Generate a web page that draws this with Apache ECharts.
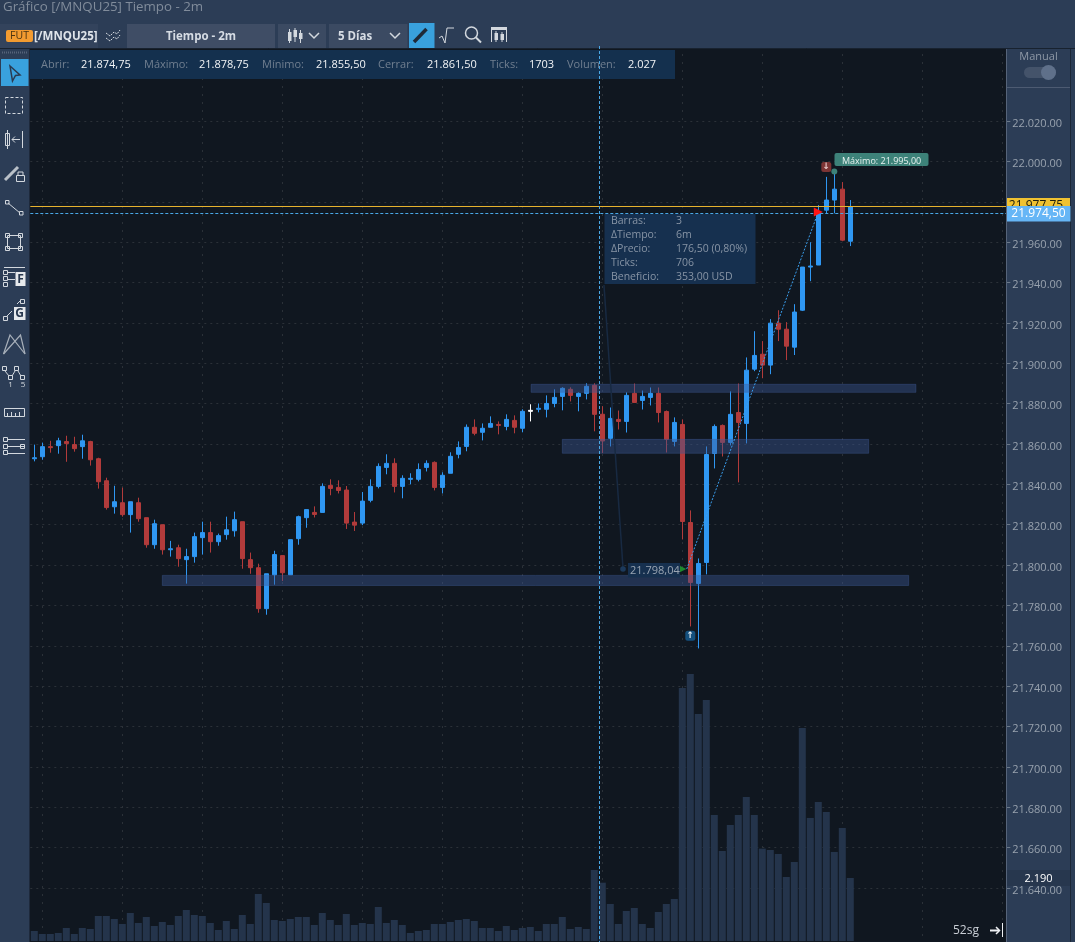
<!DOCTYPE html>
<html>
<head>
<meta charset="utf-8">
<title>Gráfico [/MNQU25] Tiempo - 2m</title>
<script src="https://cdn.jsdelivr.net/npm/echarts@6/dist/echarts.min.js"></script>
<style>
html, body { margin: 0; padding: 0; background: #101720; overflow: hidden; }
#chart { width: 1075px; height: 942px; }
</style>
</head>
<body>
<div id="chart"></div>
<script>
// candle values, oldest first
var opens = [
    21852.7, 21853.7, 21858.7, 21859.2, 21861.2, 21859.7, 21858.7, 21861.2, 21852.7, 21841.8,
    21828.9, 21830.9, 21825.0, 21830.9, 21823.5, 21810.1, 21820.0, 21807.6, 21808.6, 21802.7,
    21804.2, 21813.6, 21816.1, 21811.6, 21815.1, 21817.0, 21821.5, 21802.7, 21798.7, 21778.4,
    21795.2, 21804.7, 21795.2, 21813.1, 21823.5, 21826.1, 21826.1, 21839.5, 21838.5, 21837.2,
    21821.3, 21820.8, 21832.1, 21839.0, 21848.4, 21850.4, 21839.0, 21842.5, 21842.5, 21848.4,
    21850.9, 21838.5, 21845.5, 21854.9, 21858.8, 21868.3, 21865.8, 21868.3, 21869.7, 21868.7,
    21871.7, 21867.8, 21876.2, 21877.2, 21877.2, 21880.1, 21883.6, 21887.1, 21883.6, 21885.1,
    21889.1, 21874.75, 21862.8, 21872.2, 21871.2, 21885.1, 21881.6, 21883.1, 21885.1, 21876.1,
    21861.3, 21869.7, 21821.1, 21790.9, 21801.3, 21855.3, 21869.2, 21860.8, 21875.6, 21870.2,
    21897.1, 21904.5, 21899.1, 21919.9, 21916.9, 21908.0, 21926.3, 21947.7, 21948.7, 21975.9,
    21980.9, 21986.3, 21960.5
];
var closes = [
    21853.2, 21858.7, 21858.2, 21861.6, 21860.2, 21857.7, 21861.6, 21852.2, 21841.3, 21828.5,
    21831.4, 21825.0, 21831.4, 21823.0, 21810.1, 21820.5, 21807.6, 21808.1, 21803.2, 21804.2,
    21814.1, 21816.1, 21811.6, 21814.6, 21817.5, 21822.5, 21803.2, 21798.7, 21778.4, 21795.7,
    21805.2, 21796.2, 21812.6, 21824.0, 21827.5, 21825.1, 21839.0, 21838.0, 21837.0, 21820.8,
    21819.8, 21831.7, 21839.0, 21848.9, 21850.4, 21839.0, 21843.0, 21843.0, 21847.4, 21850.4,
    21838.5, 21844.5, 21853.9, 21858.3, 21868.3, 21865.3, 21867.8, 21870.2, 21869.2, 21872.2,
    21868.3, 21876.2, 21876.7, 21877.7, 21880.1, 21883.1, 21887.6, 21884.1, 21885.1, 21888.6,
    21874.7, 21861.5, 21872.7, 21871.2, 21884.1, 21880.6, 21883.6, 21885.1, 21875.6, 21862.3,
    21870.7, 21821.6, 21791.4, 21800.8, 21854.8, 21868.7, 21860.8, 21874.7, 21870.7, 21896.6,
    21903.9, 21899.1, 21919.9, 21916.9, 21908.5, 21925.4, 21947.7, 21948.2, 21974.3, 21980.9,
    21986.3, 21961.0, 21977.4
];
var lows = [
    21851.4, 21852.2, 21855.7, 21855.2, 21851.2, 21856.2, 21852.7, 21849.3, 21837.9, 21827.5,
    21825.5, 21824.0, 21816.1, 21821.5, 21808.6, 21808.1, 21805.2, 21804.2, 21799.2, 21790.8,
    21801.2, 21805.2, 21806.2, 21809.6, 21812.6, 21814.1, 21798.2, 21795.7, 21776.4, 21775.4,
    21790.3, 21792.1, 21795.2, 21810.1, 21818.5, 21823.6, 21826.1, 21834.6, 21835.5, 21817.9,
    21816.9, 21819.8, 21831.1, 21838.0, 21845.0, 21836.0, 21833.1, 21840.0, 21841.5, 21846.4,
    21837.0, 21835.5, 21845.5, 21852.9, 21856.4, 21864.3, 21861.8, 21868.3, 21864.8, 21866.8,
    21865.3, 21865.8, 21871.2, 21875.7, 21873.2, 21878.2, 21876.7, 21881.1, 21876.2, 21882.1,
    21866.3, 21855.5, 21858.8, 21867.2, 21865.7, 21880.6, 21877.1, 21879.1, 21870.7, 21855.8,
    21858.8, 21812.7, 21769.6, 21758.7, 21795.4, 21847.9, 21853.8, 21859.3, 21841.0, 21860.3,
    21896.1, 21892.6, 21894.6, 21911.0, 21901.6, 21904.1, 21925.9, 21940.7, 21948.7, 21974.3,
    21974.3, 21960.5, 21958.1
];
var highs = [
    21859.7, 21860.7, 21861.6, 21863.1, 21864.1, 21863.6, 21864.6, 21861.6, 21853.2, 21843.3,
    21839.3, 21838.4, 21831.4, 21833.4, 21823.5, 21822.5, 21820.0, 21812.0, 21810.1, 21808.1,
    21816.1, 21821.5, 21821.5, 21815.6, 21824.0, 21826.5, 21821.5, 21806.2, 21800.7, 21795.7,
    21807.1, 21804.7, 21812.6, 21824.5, 21827.5, 21829.1, 21840.5, 21842.5, 21842.0, 21839.2,
    21826.3, 21836.2, 21842.5, 21850.4, 21854.9, 21852.9, 21844.5, 21845.5, 21850.4, 21851.9,
    21851.4, 21846.0, 21855.9, 21861.3, 21869.7, 21872.2, 21870.2, 21873.7, 21871.2, 21874.7,
    21874.2, 21877.2, 21879.7, 21880.1, 21884.1, 21887.1, 21888.1, 21888.1, 21885.6, 21890.1,
    21890.1, 21878.75, 21878.1, 21876.6, 21885.6, 21890.0, 21886.5, 21888.0, 21888.0, 21876.6,
    21873.2, 21872.2, 21827.1, 21803.3, 21858.8, 21869.7, 21869.7, 21886.1, 21890.0, 21902.9,
    21915.9, 21911.0, 21921.9, 21926.3, 21920.4, 21929.3, 21947.7, 21960.0, 21978.4, 21992.4,
    21995.0, 21989.8, 21980.9
];
var volumes = [
    348, 243, 243, 278, 452, 243, 452, 417, 869, 869,
    765, 591, 974, 626, 834, 522, 661, 556, 869, 1078,
    904, 869, 626, 382, 695, 417, 904, 591, 1634, 1321,
    730, 695, 765, 834, 834, 556, 974, 730, 556, 939,
    556, 626, 591, 1182, 626, 730, 556, 278, 348, 382,
    591, 591, 661, 730, 765, 695, 452, 452, 348, 522,
    382, 452, 487, 348, 591, 591, 834, 417, 487, 417,
    2469, 2027, 1286, 591, 1043, 1147, 591, 452, 1008, 1286,
    1460, 8797, 9284, 7893, 8380, 4381, 3129, 4033, 4381, 5007,
    4381, 3210, 3164, 3025, 2225, 2747, 7406, 4277, 4833, 4485,
    3095, 3929, 2190
];

var hoverBar = 62;            // the doji drawn white
var lastPrice = 21977.75;
var crossPrice = 21974.5;

// shaded price zones: bar position from, bar position to, price top, price bottom
var zoneFrom = [62.1, 66, 16];
var zoneTo = [110.2, 104.3, 109.3];
var zoneTop = [21889.6, 21862.3, 21794.9];
var zoneBottom = [21885.6, 21855.4, 21789.9];

// measure line, bar position / price
var measureBars = [81.55, 98];
var measurePrices = [21798.04, 21975];

var infoLabels = ['Abrir:', 'Máximo:', 'Mínimo:', 'Cerrar:', 'Ticks:', 'Volumen:'];
var infoValues = ['21.874,75', '21.878,75', '21.855,50', '21.861,50', '1703', '2.027'];
var infoLabelX = [41, 144, 262, 378, 490, 567];
var infoValueX = [81, 199, 316, 427, 529, 628];

var measureLabels = ['Barras:', 'ΔTiempo:', 'ΔPrecio:', 'Ticks:', 'Beneficio:'];
var measureValues = ['3', '6m', '176,50 (0,80%)', '706', '353,00 USD'];

var slotCount = 122;
var slots = [];
for (var s = 0; s < slotCount; s++) {
    slots.push(String(s));
}

var candles = opens.map(function(o, i) {
    var row = [o, closes[i], lows[i], highs[i]];
    if (i === hoverBar) {
        return { value: row, itemStyle: { color: '#ffffff', color0: '#ffffff', borderColor: '#ffffff', borderColor0: '#ffffff' } };
    }
    return row;
});

const UI_FONT = '"Open Sans", sans-serif';
const PANEL = '#2c3d56';
const ICON = '#d3d8de';

// small helpers for the window chrome around the chart
var box = function(x, y, w, h, fill, z, r) {
    return { type: 'rect', silent: true, z: z === undefined ? 50 : z,
        shape: { x: x, y: y, width: w, height: h, r: r || 0 }, style: { fill: fill } };
};
var frame = function(x, y, w, h, color, dash) {
    return { type: 'rect', silent: true, z: 52, shape: { x: x, y: y, width: w, height: h },
        style: { fill: 'none', stroke: color || ICON, lineWidth: 1, lineDash: dash || null } };
};
// Open Sans sits a pixel high when centred, hence the +1
var label = function(x, y, str, color, size, align, weight) {
    return { type: 'text', silent: true, z: 55, x: x, y: y + 1,
        style: { text: str, fill: color, font: (weight || 'normal') + ' ' + (size || 11) + 'px ' + UI_FONT,
            align: align || 'left', verticalAlign: 'middle' } };
};
var poly = function(points, color, width, dash) {
    return { type: 'polyline', silent: true, z: 52, shape: { points: points },
        style: { fill: 'none', stroke: color || ICON, lineWidth: width || 1, lineDash: dash || null } };
};
var circle = function(cx, cy, r, fill, stroke) {
    return { type: 'circle', silent: true, z: 52, shape: { cx: cx, cy: cy, r: r },
        style: { fill: fill || 'none', stroke: stroke || null, lineWidth: 1.5 } };
};
// tiny candlestick used by a few of the toolbar icons
var tinyCandle = function(x, y0, y1, b0, b1, color) {
    return [poly([[x, y0], [x, y1]], color, 1), box(x - 1.5, b0, 3.5, b1 - b0, color, 52)];
};

var chrome = [];
var add = function(items) { chrome = chrome.concat(items); };

// side panels sit under the axis labels
add([
    box(0, 0, 1075, 48, PANEL, 40),
    box(0, 48, 29.5, 894, PANEL, 40),
    box(1006, 48, 69, 894, PANEL, -1),
    poly([[1006.5, 48], [1006.5, 942]], '#56647a', 1),
    poly([[1070.5, 48], [1070.5, 942]], '#1c2838', 1),
    poly([[0, 48.5], [1075, 48.5]], '#18222f', 1)
]);

// title and top toolbar
add([
    label(3, 6, 'Gráfico [/MNQU25] Tiempo - 2m', '#818c9b', 13.3),
    box(0, 24, 98, 24, '#33435c'),
    box(6, 30, 27, 12, '#f29b30', 51, 2),
    label(19.5, 35, 'FUT', '#4a3412', 10.5, 'center'),
    label(34, 35.5, '[/MNQU25]', '#dfe4ea', 11.5, 'left', 'bold'),
    poly([[106, 33], [110, 36], [114, 32], [117, 34], [120, 30]], ICON, 1, [2, 1]),
    poly([[106, 38], [110, 41], [114, 37], [117, 39], [120, 35]], ICON, 1, [2, 1]),
    box(127, 24, 148, 24, '#3f4d65'),
    label(201, 35.5, 'Tiempo - 2m', '#d6dce4', 11.5, 'center', 'bold'),
    box(278, 24, 48, 24, '#3b4a62'),
    box(329, 24, 78.5, 24, '#3b4a62'),
    label(355, 35.5, '5 Días', '#d6dce4', 11.5, 'center', 'bold'),
    poly([[309, 33], [314, 38], [319, 33]], ICON, 1.5),
    poly([[390, 33], [395, 38], [400, 33]], ICON, 1.5),
    box(409, 23, 25.5, 25, '#39a1dd'),
    poly([[414, 42], [426.5, 29]], '#1f2a38', 3.5)
]);
add(tinyCandle(289.5, 29, 43, 32, 41, ICON));
add(tinyCandle(295, 28, 42, 30, 37, ICON));
add(tinyCandle(300.5, 30, 43, 33, 39, ICON));
add([
    poly([[439, 38], [442, 36], [445, 43], [447, 28], [454, 28]], ICON, 1),
    circle(471.5, 33, 6, null, ICON),
    poly([[476, 37.5], [481, 42.5]], ICON, 2),
    box(491, 27, 16, 3, ICON, 52),
    poly([[491.5, 30], [491.5, 42]], ICON, 1),
    poly([[506.5, 30], [506.5, 42]], ICON, 1)
]);
add(tinyCandle(496, 31, 42, 33, 40, ICON));
add(tinyCandle(502, 32, 42, 34, 40, ICON));

// left toolbar
add([
    poly([[2, 52.5], [28, 52.5]], '#56647a', 2, [1, 1]),
    box(1, 59, 27.5, 27, '#39a1dd'),
    { type: 'polygon', silent: true, z: 52, shape: { points: [[10, 66], [20, 75], [15.5, 75.5], [12.5, 81]] },
        style: { fill: 'none', stroke: '#2a3a50', lineWidth: 1.5 } },
    frame(5.5, 97.5, 17, 16, ICON, [3, 2]),
    frame(5.5, 133.5, 4, 12),
    poly([[7.5, 130], [7.5, 149]]),
    poly([[20, 139.5], [12, 139.5]]),
    poly([[15, 136.5], [12, 139.5], [15, 142.5]]),
    poly([[22.5, 131], [22.5, 148]]),
    poly([[5, 180], [18, 167]], '#b9c0c8', 3),
    frame(16.5, 175.5, 8, 6),
    poly([[18, 175], [18, 172], [23, 172], [23, 175]]),
    poly([[8, 203], [20, 213]]),
    frame(5.5, 200.5, 3.5, 3.5),
    frame(19.5, 211.5, 3.5, 3.5),
    frame(7.5, 235.5, 13, 13),
    frame(5.5, 233.5, 4, 4),
    frame(18.5, 233.5, 4, 4),
    frame(5.5, 246.5, 4, 4),
    frame(18.5, 246.5, 4, 4),
    poly([[4, 267.5], [25, 267.5]]),
    poly([[8, 272.5], [15, 272.5]]),
    poly([[8, 279.5], [15, 279.5]]),
    frame(3.5, 270.5, 4, 4),
    frame(3.5, 276.5, 4, 4),
    frame(3.5, 282.5, 4, 4),
    box(15.5, 272, 10, 14, '#e6e9ec', 52),
    label(20.5, 278.5, 'F', '#26364d', 12, 'center', 'bold'),
    poly([[7, 316], [12, 311]]),
    poly([[17, 304], [20, 301]]),
    frame(3.5, 316.5, 4, 4),
    frame(20.5, 299.5, 4, 4),
    box(14, 307, 11.5, 13, '#e6e9ec', 52),
    label(19.7, 313, 'G', '#26364d', 12, 'center', 'bold'),
    poly([[3.5, 354], [10, 335], [25, 354]], '#a8b0ba', 1.2),
    poly([[3.5, 354], [20.5, 335], [25, 354]], '#a8b0ba', 1.2),
    frame(2.5, 366.5, 4, 4),
    frame(14.5, 366.5, 4, 4),
    frame(8.5, 375.5, 4, 4),
    frame(20.5, 375.5, 4, 4),
    poly([[5, 371], [9, 376]]),
    poly([[12, 376], [15, 371]]),
    poly([[18, 371], [21, 376]]),
    label(10.5, 384, '1', ICON, 8, 'center'),
    label(23, 384, '5', ICON, 8, 'center'),
    frame(4.5, 408.5, 20, 8),
    poly([[7.5, 416], [7.5, 413]]),
    poly([[11.5, 416], [11.5, 412]]),
    poly([[15.5, 416], [15.5, 413]]),
    poly([[19.5, 416], [19.5, 412]]),
    poly([[8, 439.5], [25, 439.5]], ICON, 1),
    poly([[8, 446.5], [25, 446.5]], ICON, 1),
    poly([[8, 453.5], [25, 453.5]], ICON, 1),
    frame(3.5, 437.5, 4, 4),
    frame(3.5, 444.5, 4, 4),
    frame(3.5, 450.5, 4, 4),
    frame(20.5, 444.5, 4, 4)
]);

// right panel bits
add([
    label(1038.5, 55.5, 'Manual', '#8e98a6', 11, 'center'),
    box(1024, 67, 32, 11, '#44536a', 51, 5.5),
    circle(1048.5, 72.5, 7.5, '#5f708a'),
    poly([[1007, 87.5], [1070, 87.5]], '#4d5b72', 1),
    box(1007, 198, 63, 9, '#f0c232', 53),
    label(1036, 205, '21.977,75', '#20200f', 12, 'center'),
    box(1007, 206, 63.5, 15.5, '#66b6f6', 56),
    { type: 'text', silent: true, z: 57, x: 1038.5, y: 214,
        style: { text: '21.974,50', fill: '#ffffff', font: '12px ' + UI_FONT, align: 'center', verticalAlign: 'middle' } },
    box(1007, 870, 63, 16, '#27374e', -1),
    label(1038.5, 877.5, '2.190', '#ffffff', 11, 'center'),
    label(953, 930, '52sg', '#c9ced5', 12),
    poly([[990, 930.5], [999, 930.5]], '#eef0f3', 2),
    poly([[996, 927], [999.5, 930.5], [996, 934]], '#eef0f3', 1.5),
    poly([[1002.5, 923], [1002.5, 937]], '#eef0f3', 1)
]);

// OHLC strip
add([box(30, 50, 645, 29, '#14304e')]);
infoLabels.forEach(function(t, i) {
    add([label(infoLabelX[i], 64, t, '#717f90', 11), label(infoValueX[i], 64, infoValues[i], '#f2f4f6', 11)]);
});

// crosshair, measure popup and the notes on the chart
add([
    poly([[599.5, 46], [599.5, 942]], '#4aa8e6', 1, [3, 2]),
    poly([[604, 285], [623, 568]], '#182a42', 1.5),
    circle(623, 569, 2.8, '#1c3a5c'),
    box(604.5, 214, 151, 70, '#16304f'),
    box(628, 563, 52, 14.5, '#16304f'),
    label(630, 570, '21.798,04', '#9aa5b3', 11),
    box(834.5, 153, 94, 13, '#3d8279', 53, 2),
    label(842, 160, 'Máximo: 21.995,00', '#e8f2f0', 9)
]);
measureLabels.forEach(function(t, i) {
    add([label(611, 220.5 + i * 14, t, '#8794a5', 10.5), label(676, 220.5 + i * 14, measureValues[i], '#8794a5', 10.5)]);
});

// the ordinal scale rounds its input, so step between two bars by hand
var coordAt = function(api, bar, price) {
    var i = Math.floor(bar);
    var a = api.coord([i, price]);
    var b = api.coord([i + 1, price]);
    return [a[0] + (b[0] - a[0]) * (bar - i), a[1]];
};

var option = {
    animation: false,
    backgroundColor: '#101720',
    textStyle: { fontFamily: UI_FONT },
    graphic: { elements: chrome },
    grid: [
        { left: 30.3, top: 46, width: 976, height: 895 },
        { left: 30.3, top: 80.8, width: 976, height: 847.5 }
    ],
    xAxis: [
        {
            type: 'category', gridIndex: 0, data: slots,
            axisLine: { show: false }, axisTick: { show: false }, axisLabel: { show: false },
            splitLine: {
                show: true, alignWithLabel: true,
                interval: function(i) { return i % 10 === 1; },
                lineStyle: { color: '#2b3138', width: 1, type: [2, 6] }
            }
        },
        {
            type: 'category', gridIndex: 1, data: slots,
            axisLine: { show: false }, axisTick: { show: false }, axisLabel: { show: false },
            splitLine: { show: false }
        }
    ],
    yAxis: [
        {
            type: 'value', gridIndex: 0, min: 0, max: 31110,
            axisLine: { show: false }, axisTick: { show: false }, axisLabel: { show: false },
            splitLine: { show: false }
        },
        {
            type: 'value', gridIndex: 1, position: 'right', min: 21620, max: 22040, interval: 20, scale: true,
            axisLine: { show: false },
            axisTick: { show: true, length: 4, lineStyle: { color: '#6a7888' } },
            axisLabel: {
                color: '#98a2ae', fontFamily: UI_FONT, fontSize: 11, margin: 6,
                // labels hang a little below their gridline in the original
                verticalAlign: 'top', lineHeight: 5,
                showMinLabel: false, showMaxLabel: false,
                formatter: function(v) {
                    var t = String(Math.round(v));
                    return t.slice(0, 2) + '.' + t.slice(2) + '.00';
                }
            },
            splitLine: {
                show: true, showMinLine: false, showMaxLine: false,
                lineStyle: { color: '#2b3138', width: 1, type: [2, 4] }
            }
        }
    ],
    series: [
        {
            type: 'bar', xAxisIndex: 0, yAxisIndex: 0, data: volumes, barWidth: 7, z: 1,
            itemStyle: { color: '#24344b' }, silent: true
        },
        {
            type: 'candlestick', xAxisIndex: 1, yAxisIndex: 1, data: candles, barWidth: 4, z: 2, silent: true,
            itemStyle: {
                color: '#2f97f2', color0: '#b23b3b', borderColor: '#2f97f2', borderColor0: '#b23b3b', borderWidth: 1
            },
            markLine: {
                silent: true, symbol: 'none', animation: false, label: { show: false },
                data: [
                    { yAxis: lastPrice, lineStyle: { color: '#e6b22e', width: 1, type: 'solid' } },
                    { yAxis: crossPrice, lineStyle: { color: '#4aa8e6', width: 1, type: [3, 2] } }
                ]
            },
            markPoint: {
                silent: true, animation: false,
                data: [
                    { coord: [100, 21995], symbol: 'circle', symbolSize: 6, itemStyle: { color: '#3d8279' }, label: { show: false } },
                    { coord: [98, 21975], symbol: 'triangle', symbolRotate: -90, symbolSize: 9, itemStyle: { color: '#ff1414' }, label: { show: false } },
                    { coord: [81, 21798], symbol: 'triangle', symbolRotate: -90, symbolSize: 8, itemStyle: { color: '#1f8a2e' }, label: { show: false } },
                    { coord: [82, 21765], symbol: 'roundRect', symbolSize: 10, itemStyle: { color: '#14507e' },
                        label: { show: true, position: 'inside', formatter: '↑', color: '#e6edf3', fontSize: 9, fontWeight: 'bold', fontFamily: 'DejaVu Sans' } },
                    { coord: [99, 21997.3], symbol: 'roundRect', symbolSize: 10, itemStyle: { color: '#7d3434' },
                        label: { show: true, position: 'inside', formatter: '↓', color: '#e6c8c8', fontSize: 9, fontWeight: 'bold', fontFamily: 'DejaVu Sans' } }
                ]
            }
        },
        {
            // price zones
            type: 'custom', xAxisIndex: 1, yAxisIndex: 1, data: zoneFrom, z: 3, silent: true, clip: false,
            renderItem: function(params, api) {
                var i = params.dataIndex;
                var a = coordAt(api, zoneFrom[i], zoneTop[i]);
                var b = coordAt(api, zoneTo[i], zoneBottom[i]);
                return {
                    type: 'rect',
                    shape: { x: a[0], y: a[1], width: b[0] - a[0], height: b[1] - a[1] },
                    style: { fill: 'rgba(60,88,150,0.42)', stroke: 'rgba(70,98,160,0.35)', lineWidth: 1 }
                };
            }
        },
        {
            // measure line
            type: 'custom', xAxisIndex: 1, yAxisIndex: 1, data: [0], z: 4, silent: true,
            renderItem: function(params, api) {
                var a = coordAt(api, measureBars[0], measurePrices[0]);
                var b = coordAt(api, measureBars[1], measurePrices[1]);
                return {
                    type: 'line',
                    shape: { x1: a[0], y1: a[1], x2: b[0], y2: b[1] },
                    style: { stroke: '#3a9fee', lineWidth: 1, lineDash: [2, 1.5] }
                };
            }
        }
    ]
};

var myChart = echarts.init(document.getElementById('chart'), null, { width: 1075, height: 942 });
myChart.setOption(option);
</script>
</body>
</html>
